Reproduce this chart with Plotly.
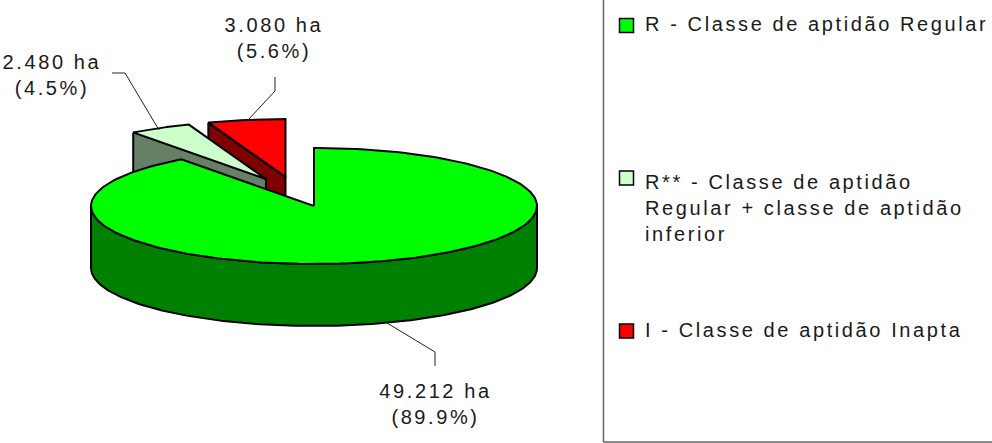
import numpy as np
import plotly.graph_objects as go

# ---- data ----
CLASSES = ["R - Classe de aptidão Regular",
           "R** - Classe de aptidão",
           "I - Classe de aptidão Inapta"]
LEGEND_LINES = ["R - Classe de aptidão Regular",
                "R** - Classe de aptidão<br>Regular + classe de aptidão<br>inferior",
                "I - Classe de aptidão Inapta"]
AREA_HA = [49212, 2480, 3080]
AREA_LABELS = ["49.212 ha<br>(89.9%)", "2.480 ha<br>(4.5%)", "3.080 ha<br>(5.6%)"]
TOP_COLORS = ["#00FF00", "#CCFFCC", "#FF0000"]
SIDE_COLORS = ["#008000", "#668066", "#800000"]

# ---- pie geometry ----
RX, RY, DEPTH = 223, 58, 62
CENTERS = [(314, 206), (266, 179), (285.5, 177)]

total = sum(AREA_HA)
edges = np.concatenate([[0], np.cumsum(AREA_HA)]) / total * 2 * np.pi


def rim(i, t):
    cx, cy = CENTERS[i]
    return cx + RX * np.sin(t), cy - RY * np.cos(t)


fig = go.Figure()
LW = 2


def poly(xs, ys, color, name):
    fig.add_trace(go.Scatter(x=list(xs), y=list(ys), mode="lines", fill="toself",
                             fillcolor=color, line=dict(color="black", width=LW),
                             name=name, showlegend=False, hoverinfo="name"))


def wedge(i, with_outer_side):
    cx, cy = CENTERS[i]
    a, b = edges[i], edges[i + 1]
    if with_outer_side:
        t = np.linspace(np.pi / 2, np.pi * 1.5, 200)
        x, y = rim(i, t)
        poly(np.r_[x, x[::-1], x[0]], np.r_[y, y[::-1] + DEPTH, y[0]], SIDE_COLORS[i], CLASSES[i])
    else:
        x, y = rim(i, a)
        poly([x, cx, cx, x, x], [y, cy, cy + DEPTH, y + DEPTH, y], SIDE_COLORS[i], CLASSES[i])
    t = np.linspace(a, b, 240)
    x, y = rim(i, t)
    poly(np.r_[cx, x, cx], np.r_[cy, y, cy], TOP_COLORS[i], CLASSES[i])


# back slices first, the big one last, as they overlap in the picture
wedge(2, False)
wedge(1, False)
wedge(0, True)

# leader lines
LEADERS = [
    ([387, 435, 435], [323, 352, 366]),
    ([159, 125, 112], [130, 73, 73]),
    ([248, 275, 275], [120, 91, 77]),
]
for lx, ly in LEADERS:
    fig.add_trace(go.Scatter(x=lx, y=ly, mode="lines", line=dict(color="#222222", width=1),
                             showlegend=False, hoverinfo="skip"))

FONT = dict(family="Liberation Sans, Arial, sans-serif", size=20, color="#1a1a1a")

for (lab, (x, y)) in zip(AREA_LABELS, [(435.5, 404), (52, 75), (274, 38)]):
    fig.add_annotation(x=x, y=y, text=lab, showarrow=False, font=FONT, align="center",
                       xanchor="center", yanchor="middle", name="lab")

# legend panel
fig.add_shape(type="line", x0=603.5, x1=603.5, y0=0, y1=442, line=dict(color="#666666", width=1.5))
fig.add_shape(type="line", x0=603.5, x1=992, y0=442, y1=442, line=dict(color="#666666", width=1.5))

LEG_Y = [25.5, 178, 331]
for name, col, y in zip(CLASSES, TOP_COLORS, LEG_Y):
    fig.add_trace(go.Scatter(x=[626.5], y=[y], mode="markers", showlegend=False, name=name,
                             marker=dict(symbol="square", size=14, color=col,
                                         line=dict(color="black", width=1.5))))
for txt, y in zip(LEGEND_LINES, [24, 207.5, 330]):
    fig.add_annotation(x=643, y=y, text=txt, showarrow=False, font=FONT, align="left",
                       xanchor="left", yanchor="middle")

fig.update_layout(width=992, height=443, autosize=False,
                  margin=dict(l=0, r=0, t=0, b=0),
                  paper_bgcolor="white", plot_bgcolor="white",
                  xaxis=dict(range=[0, 992], visible=False, fixedrange=True),
                  yaxis=dict(range=[443, 0], visible=False, fixedrange=True),
                  showlegend=False)

POST = """
document.body.style.margin = '0';
document.querySelectorAll('.annotation-text').forEach(function (t) {
    t.style.letterSpacing = '2.6px';
});
"""
fig.write_html("out.html", post_script=POST, config={"displayModeBar": False})
